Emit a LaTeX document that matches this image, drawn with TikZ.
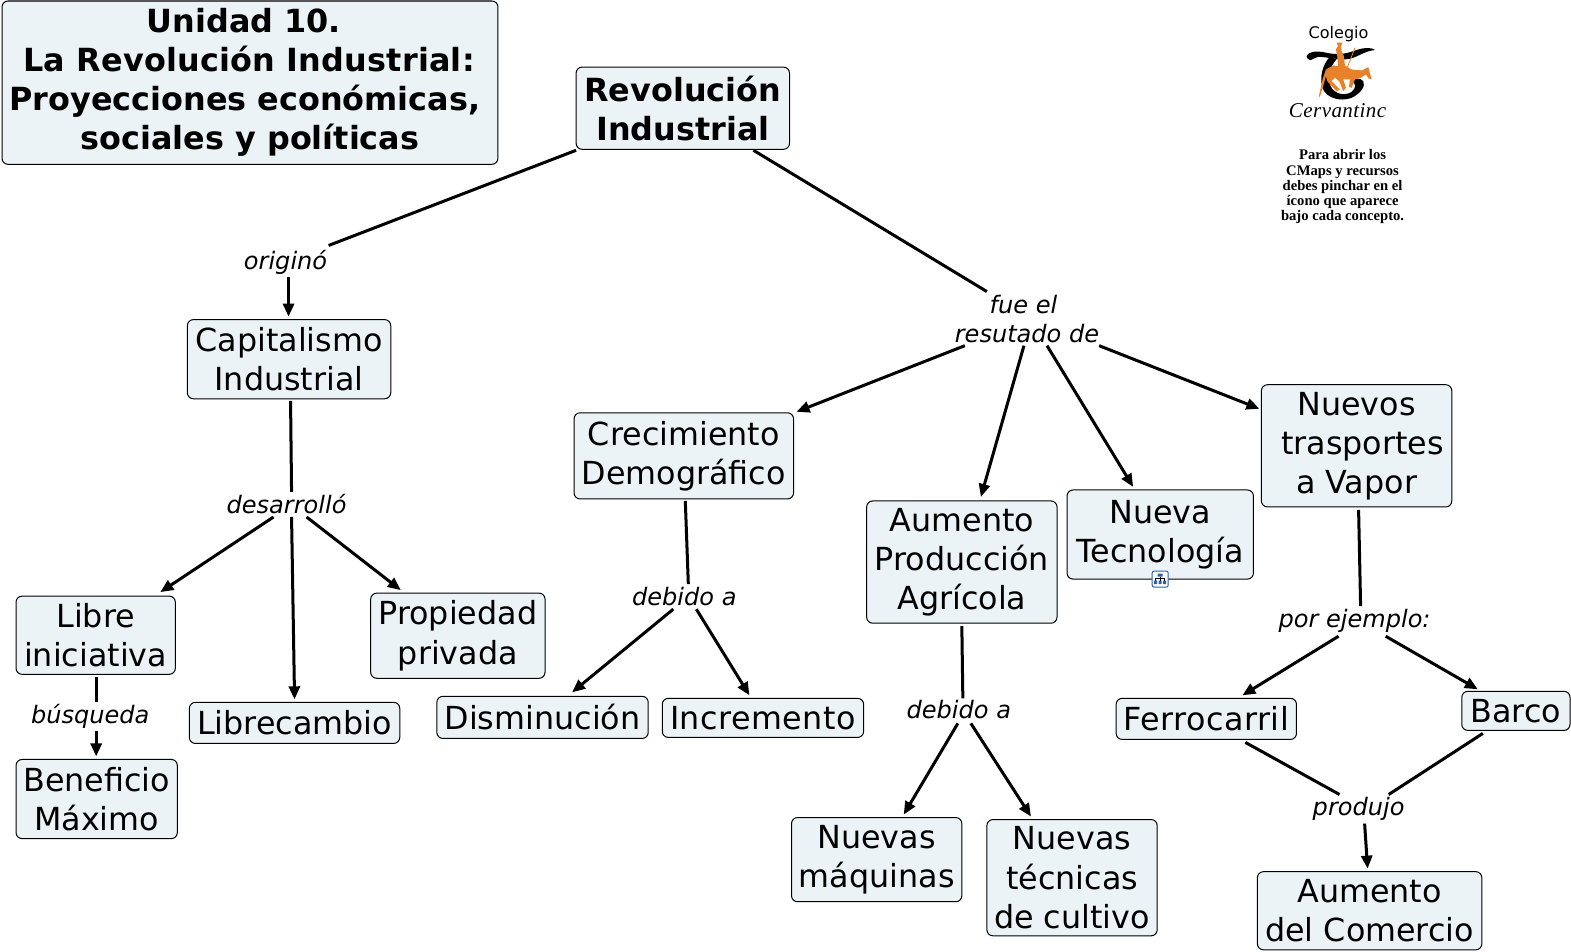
\documentclass[tikz,border=0pt]{standalone}
\usepackage{fontspec}
\setmainfont{DejaVu Sans}
\newfontfamily\logofont{Liberation Serif}
\usetikzlibrary{arrows.meta}
\definecolor{boxfill}{HTML}{ECF3F6}
\definecolor{horse}{HTML}{E8822A}
\definecolor{iconblue}{HTML}{2F5FB3}
\tikzset{
  cbox/.style 2 args={draw=black,line width=1pt,fill=boxfill,rounded corners=6pt,minimum width=#1pt,minimum height=#2pt,inner sep=0pt,align=center,font=\fontsize{31.7}{39}\selectfont},
  boldbox/.style={font=\fontsize{31.8}{39}\selectfont\bfseries},
  linkword/.style={inner sep=0pt,align=center,font=\fontsize{24}{29}\selectfont\itshape},
  oneline/.style={text height=21pt,text depth=4pt},
  lnk/.style={line width=3pt,black},
  arr/.style={lnk,-{Triangle[length=13pt,width=11pt]}},
}
\newcommand{\lk}[5][lnk]{\draw[#1] ([shift={(#3)}]#2.center) -- ([shift={(#5)}]#4.center);}
\newcommand{\spaced}[1]{{\addfontfeature{LetterSpace=1.6}#1}}
\begin{document}
\begin{tikzpicture}[x=1pt,y=-1pt]
\useasboundingbox (0,0) rectangle (1568,950);
\fill[white] (0,0) rectangle (1568,950);
% concepts
\node[cbox={495}{163},boldbox] (title) at (249.5,82.5) {Unidad 10.\kern12pt\\{\addfontfeature{LetterSpace=0.7}La Revolución Industrial:}\kern2pt\\Proyecciones económicas,\kern10pt\\sociales y políticas};
\node[cbox={213}{82},boldbox] (rev) at (681.5,108) {Revolución\\Industrial};
\node[cbox={203}{79}] (cap) at (288.5,358.5) {Capitalismo\\Industrial};
\node[cbox={219}{86}] (crec) at (682.5,455) {Crecimiento\\Demográfico};
\node[cbox={190}{122}] (aum) at (960,561) {Aumento\\Producción\\Agrícola};
\node[cbox={186}{89}] (ntec) at (1158,533.5) {\raisebox{1pt}{Nueva}\\\raisebox{1pt}{Tecnología}};
\node[cbox={190}{122}] (nuev) at (1354,445) {Nuevos\\\kern12pt trasportes\\a Vapor};
\node[cbox={159}{78}] (libre) at (95.5,634) {Libre\\iniciativa};
\node[cbox={210}{41}] (lcam) at (294,721.5) {Librecambio};
\node[cbox={174}{85}] (prop) at (457,634.5) {Propiedad\\privada};
\node[cbox={161}{79}] (ben) at (96.5,797.5) {Beneficio\\Máximo};
\node[cbox={211}{42}] (dism) at (541.5,716) {Disminución};
\node[cbox={201}{39}] (incr) at (761.5,716.5) {\spaced{Incremento}};
\node[cbox={180}{41}] (ferro) at (1204,717.5) {\spaced{Ferrocarril}};
\node[cbox={108}{39}] (barco) at (1513,709.5) {Barco};
\node[cbox={170}{84}] (maq) at (875,858) {Nuevas\\máquinas};
\node[cbox={170}{116}] (tec) at (1070,876) {Nuevas\\técnicas\\de cultivo};
\node[cbox={224}{78}] (comer) at (1367,909) {Aumento\\del Comercio};
% linking phrases
\node[linkword,oneline] (orig) at (285,260) {originó};
\node[linkword] (fue) at (1025,318.5) {fue el\kern7pt\\resutado de};
\node[linkword,oneline] (des) at (286,504) {desarrolló};
\node[linkword,oneline] (dba) at (683,596) {debido a};
\node[linkword,oneline] (dbb) at (957,709) {debido a};
\node[linkword,oneline] (por) at (1352,618) {por ejemplo:};
\node[linkword,oneline] (bus) at (90,714) {búsqueda};
\node[linkword,oneline] (prod) at (1356,805) {produjo};
% connectors
\lk{rev}{-106.5,42}{orig}{43,-15}
\lk[arr]{orig}{3,16}{cap}{-0.5,-42.5}
\lk{rev}{70.5,42}{fue}{-40,-27.5}
\lk[arr]{fue}{-62,26.5}{crec}{112.5,-44}
\lk[arr]{fue}{-3,26.5}{aum}{19,-65}
\lk[arr]{fue}{20,26.5}{ntec}{-27,-47.5}
\lk[arr]{fue}{72,26.5}{nuev}{-97,-37}
\lk{cap}{1.5,41.5}{des}{5,-13}
\lk[arr]{des}{-13,12}{libre}{64.5,-43}
\lk[arr]{des}{5,12}{lcam}{0,-23.5}
\lk[arr]{des}{20,12}{prop}{-57,-45.5}
\lk{libre}{0.5,42}{bus}{6,-13}
\lk[arr]{bus}{6,16}{ben}{-0.5,-42.5}
\lk{crec}{1.5,45}{dba}{4,-13}
\lk[arr]{dba}{-11,12}{dism}{29.5,-25}
\lk[arr]{dba}{12,12}{incr}{-13.5,-22.5}
\lk{aum}{0,64}{dbb}{4,-12}
\lk[arr]{dbb}{-1,13}{maq}{27,-45}
\lk[arr]{dbb}{12,13}{tec}{-41,-61}
\lk{nuev}{2,64}{por}{6,-13}
\lk[arr]{por}{-16,17}{ferro}{36,-23.5}
\lk[arr]{por}{31,17}{barco}{-38,-21.5}
\lk{ferro}{39,23.5}{prod}{-19,-12}
\lk{barco}{-33,22.5}{prod}{30,-12}
\lk[arr]{prod}{6,17}{comer}{-2,-42}
% resource icon
\begin{scope}[shift={(1158,578)}]
\draw[iconblue,fill=white,line width=1pt,rounded corners=2pt] (-8,-8) rectangle (8,8);
\fill[iconblue] (-2.5,-5.5) rectangle (2.5,-2.5) (-6,1.5) rectangle (-3,5) (-1.5,1.5) rectangle (1.5,5) (3,1.5) rectangle (6,5);
\draw[black,line width=.6pt] (0,-2.5)--(0,1.5) (-4.5,1.5)--(-4.5,-.5)--(4.5,-.5)--(4.5,1.5);
\end{scope}
% school logo
\node[inner sep=0pt,font=\fontsize{16}{19}\selectfont] (colegio) at (1336,34) {Colegio};
\begin{scope}[shift={(1284,36)},x=.3333pt,y=-.3333pt]
\fill[black] (60,60) .. controls (65,48) and (85,42) .. (120,50) .. controls (165,60) and (190,48) .. (215,40) .. controls (235,34) and (258,34) .. (265,42) .. controls (235,44) and (215,62) .. (190,68) .. controls (160,74) and (120,62) .. (95,62) .. controls (85,62) and (80,72) .. (72,72) .. controls (65,72) and (60,66) .. (60,60) -- cycle;
\fill[black] (130,62) .. controls (108,85) and (98,125) .. (108,155) .. controls (118,185) and (160,198) .. (195,185) .. controls (222,172) and (238,150) .. (230,135) .. controls (222,124) and (200,126) .. (195,136) .. controls (208,140) and (210,155) .. (195,167) .. controls (175,180) and (145,175) .. (132,150) .. controls (122,125) and (130,90) .. (150,70) -- cycle;
\fill[horse] (150,20) -- (168,20) -- (163,30) -- (165,45) -- (172,60) -- (175,88) -- (195,100) -- (225,103) -- (245,93) -- (255,130) -- (247,128) -- (238,115) -- (222,125) -- (205,130) -- (195,155) -- (187,152) -- (190,130) -- (170,130) -- (178,155) -- (170,165) -- (158,135) -- (145,125) -- (135,135) -- (160,160) -- (150,165) -- (122,135) -- (118,120) -- (110,150) -- (100,182) -- (97,180) -- (108,130) -- (118,100) -- (140,88) -- (155,90) -- (152,60) -- (148,40) -- (154,30) -- cycle;
\draw[horse,line width=.8pt] (205,35) -- (180,100);
\end{scope}
\node[inner sep=0pt,font=\fontsize{21}{22}\logofont\itshape] (cerv) at (1335,110) {\addfontfeature{LetterSpace=2}Cervantinc};
\node[inner sep=0pt,align=center,font=\fontsize{14.6}{15.2}\logofont\bfseries] (aviso) at (1340,186.5) {Para abrir los\\CMaps y recursos\\debes pinchar en el\\ícono que aparece\\bajo cada concepto.};
\end{tikzpicture}
\end{document}
